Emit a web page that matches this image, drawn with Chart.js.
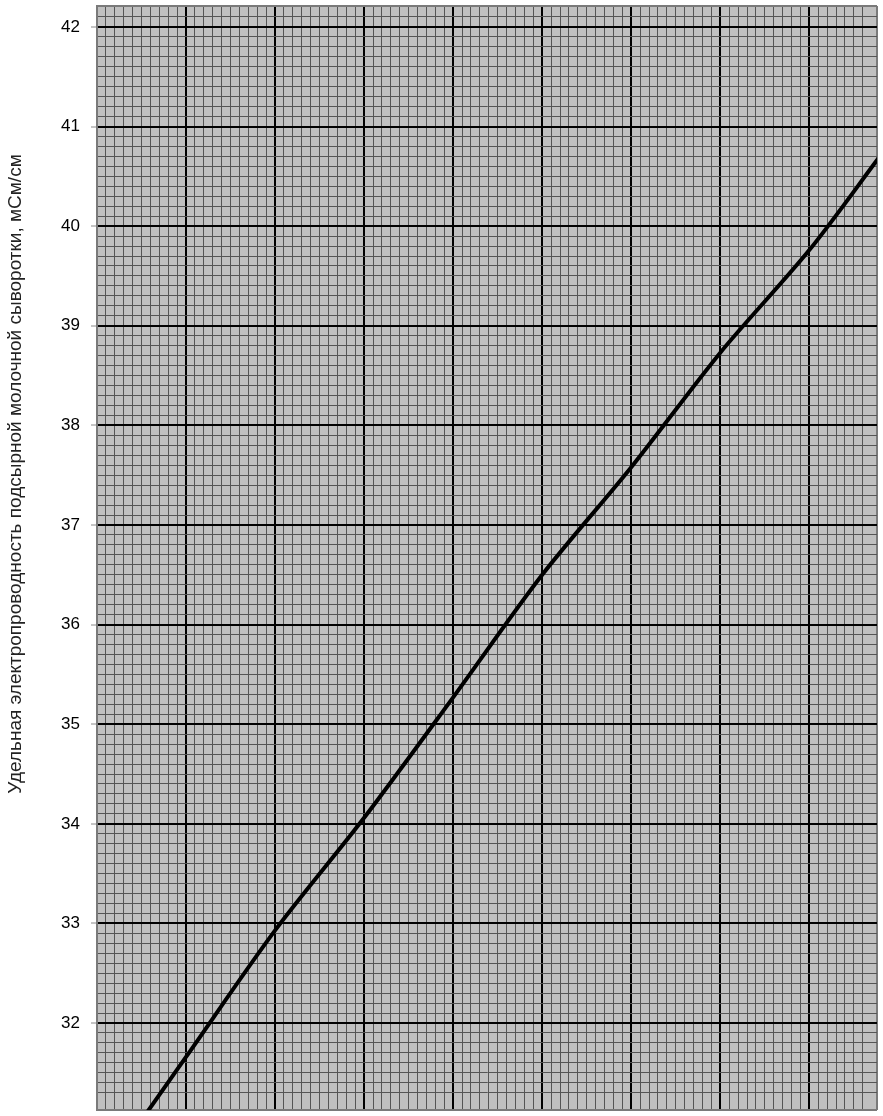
<!DOCTYPE html>
<html>
<head>
<meta charset="utf-8">
<script src="https://cdn.jsdelivr.net/npm/chart.js@4"></script>
<style>
  html, body { margin: 0; padding: 0; background: #fff; }
  #chart { display: block; }
</style>
</head>
<body>
<canvas id="chart" width="883" height="1116"></canvas>
<script>
// values at every major vertical line (x in grid units)
const xVals = [0, 1, 2, 3, 4, 5, 6, 7, 8, 8.8];
const conductivity = [30.39, 31.66, 32.93, 34.06, 35.27, 36.50, 37.58, 38.73, 39.76, 40.71];
const yTitle = 'Удельная электропроводность подсырной молочной сыворотки, мСм/см';

const isMajor = v => Math.abs(v - Math.round(v)) < 1e-6;

function gridColor(ctx) {
  const s = ctx.scale, v = ctx.tick.value;
  if (v === s.min || v === s.max) return '#7a7a7a';
  return isMajor(v) ? '#000' : '#555';
}
function gridWidth(ctx) {
  const s = ctx.scale, v = ctx.tick.value;
  if (v === s.min || v === s.max) return 2;
  return isMajor(v) ? 2 : 1;
}

const bgPlugin = {
  id: 'paper',
  beforeDraw(chart) {
    const { ctx, chartArea: a } = chart;
    ctx.save();
    ctx.fillStyle = '#c0c0c0';
    ctx.fillRect(a.left, a.top, a.right - a.left, a.bottom - a.top);
    ctx.restore();
  },
  afterDraw(chart) {
    const ctx = chart.ctx;
    ctx.save();
    ctx.translate(16, 474);
    ctx.rotate(-Math.PI / 2);
    ctx.font = '19px "Liberation Sans", Arial, sans-serif';
    ctx.fillStyle = '#222';
    ctx.textAlign = 'center';
    ctx.textBaseline = 'middle';
    ctx.fillText(yTitle, 0, 0);
    ctx.restore();
  }
};

new Chart(document.getElementById('chart'), {
  type: 'line',
  data: {
    datasets: [{
      data: xVals.map((x, i) => ({ x, y: conductivity[i] })),
      borderColor: '#000',
      borderWidth: 4,
      pointRadius: 0,
      tension: 0.3,
      fill: false,
      clip: 0
    }]
  },
  options: {
    responsive: false,
    animation: false,
    layout: { padding: { top: 6, right: 6, bottom: 6, left: 0 } },
    plugins: { legend: { display: false }, tooltip: { enabled: false } },
    scales: {
      x: {
        type: 'linear',
        min: 0, max: 8.76,
        afterFit: s => { s.height = 0; s.paddingLeft = 0; s.paddingRight = 0; },
        border: { display: false },
        grid: { color: gridColor, lineWidth: gridWidth, drawTicks: false },
        ticks: { display: false, stepSize: 0.1, autoSkip: false }
      },
      y: {
        type: 'linear',
        min: 31.127, max: 42.21,
        afterFit: s => { s.width = 97; s.paddingTop = 0; s.paddingBottom = 0; },
        border: { color: '#7a7a7a', width: 2 },
        grid: {
          color: gridColor, lineWidth: gridWidth, tickLength: 6,
          tickColor: c => isMajor(c.tick.value) ? '#888' : 'rgba(0,0,0,0)',
          tickWidth: 1
        },
        ticks: {
          stepSize: 0.1, autoSkip: false, padding: 11,
          color: '#000',
          font: { family: '"Liberation Sans", Arial, sans-serif', size: 17 },
          callback: v => isMajor(v) ? String(Math.round(v)) : ''
        }
      }
    }
  },
  plugins: [bgPlugin]
});
</script>
</body>
</html>
